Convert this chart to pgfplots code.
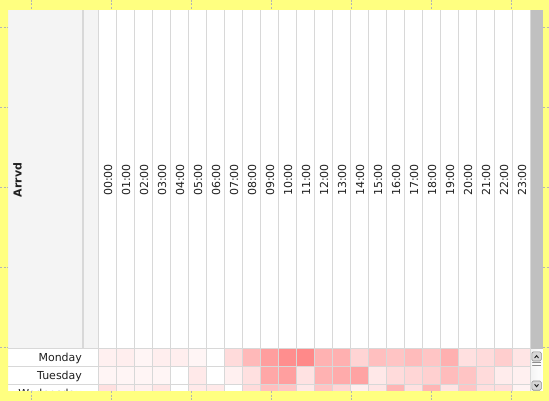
\documentclass[border=0pt]{standalone}
\usepackage{fontspec}
\setmainfont{DejaVu Sans}
\usepackage{pgfplots}
\pgfplotsset{compat=1.18}
\usepackage{pgfplotstable}

\definecolor{frameyellow}{HTML}{FFFF80}
\definecolor{dashgray}{HTML}{B4B4B4}
\definecolor{linegray}{HTML}{D8D8D8}
\definecolor{panelgray}{HTML}{F4F4F4}
\definecolor{scrollgray}{HTML}{C0C0C0}
\definecolor{btngray}{HTML}{D6D6D6}
\definecolor{btnedge}{HTML}{8C8C8C}
\definecolor{textdark}{HTML}{202020}

% arrivals per weekday (y: 0 = Monday) and hour (x), scaled 0..100
\pgfplotstableread[row sep=\\]{
x y v\\
0 0 12\\ 1 0 13\\ 2 0 8\\ 3 0 13\\ 4 0 13\\ 5 0 8\\
6 0 0\\ 7 0 28\\ 8 0 55\\ 9 0 76\\ 10 0 88\\ 11 0 92\\
12 0 60\\ 13 0 62\\ 14 0 34\\ 15 0 50\\ 16 0 46\\ 17 0 53\\
18 0 45\\ 19 0 62\\ 20 0 24\\ 21 0 28\\ 22 0 38\\ 23 0 20\\
0 1 8\\ 1 1 8\\ 2 1 8\\ 3 1 8\\ 4 1 0\\ 5 1 17\\
6 1 0\\ 7 1 12\\ 8 1 24\\ 9 1 69\\ 10 1 75\\ 11 1 23\\
12 1 60\\ 13 1 66\\ 14 1 72\\ 15 1 18\\ 16 1 28\\ 17 1 32\\
18 1 37\\ 19 1 52\\ 20 1 46\\ 21 1 28\\ 22 1 15\\ 23 1 12\\
0 2 24\\ 1 2 12\\ 2 2 12\\ 3 2 20\\ 4 2 0\\ 5 2 17\\
6 2 17\\ 7 2 0\\ 8 2 28\\ 9 2 50\\ 10 2 45\\ 11 2 18\\
12 2 46\\ 13 2 32\\ 14 2 13\\ 15 2 20\\ 16 2 58\\ 17 2 24\\
18 2 58\\ 19 2 22\\ 20 2 45\\ 21 2 26\\ 22 2 26\\ 23 2 9\\
}\arrivals

\begin{document}
\begin{tikzpicture}[font=\fontsize{11}{13}\selectfont, text=textdark]
\useasboundingbox (0pt,0pt) rectangle (549pt,-401pt);

\begin{scope}[x=1pt, y=-1pt]
  % widget background
  \fill[white] (8,10) rectangle (543,391);
  % header: row-title panel, separator, narrow column
  \fill[panelgray] (8,10) rectangle (82,348.5);
  \fill[linegray] (82,10) rectangle (84,348.5);
  \fill[panelgray] (84,10) rectangle (98,348.5);
  \draw[linegray, line width=0.8pt] (83.5,10) -- (83.5,348.5);
  % hour headings
  \foreach \k in {0,...,23}
    \node[rotate=90, inner sep=0pt] at (108+18*\k,180) {\ifnum\k<10 0\fi\k:00};
  \node[rotate=90, inner sep=0pt, font=\bfseries\fontsize{11}{13}\selectfont] at (17.5,180) {Arrvd};
\end{scope}

\begin{axis}[
  at={(98.5pt,-349pt)}, anchor=north west,
  x=18pt, y=18pt, y dir=reverse,
  xmin=-0.5, xmax=23.5, ymin=-0.5, ymax=2.5,
  axis line style={draw=none},
  xtick=\empty,
  ytick={0,1,2}, yticklabels={Monday,Tuesday,Wednesday},
  major tick length=0pt,
  yticklabel style={anchor=east, xshift=-13pt, text=textdark,
    font=\fontsize{11}{13}\selectfont},
  colormap={pinks}{rgb255(0)=(255,255,255) rgb255(100)=(255,128,128)},
  point meta min=0, point meta max=100,
]
\addplot[matrix plot*, mesh/cols=24, point meta=explicit] table[meta=v] {\arrivals};
\end{axis}

\begin{scope}[x=1pt, y=-1pt]
  % grid lines of header and cells
  \foreach \k in {0,...,24}
    \draw[linegray, line width=1pt] (98.5+18*\k,10) -- (98.5+18*\k,391);
  \draw[linegray, line width=1pt] (8,348.5) -- (530,348.5);
  \draw[linegray, line width=1pt] (8,366.5) -- (530,366.5);
  \draw[linegray, line width=1pt] (8,384.5) -- (530,384.5);

  % vertical scrollbar
  \fill[scrollgray] (530.5,10) rectangle (543,348.5);
  \shade[left color=panelgray, right color=white] (530.5,349) rectangle (543,391);
  \draw[linegray, line width=0.8pt] (530.5,349) -- (530.5,391);
  \draw[btnedge, fill=btngray, rounded corners=1.5pt, line width=0.6pt] (531.8,351.8) rectangle (541.3,361);
  \draw[textdark, line width=0.9pt] (534.6,358) -- (536.55,355.6) -- (538.5,358);
  \draw[btnedge, line width=0.8pt, line cap=round] (532.5,362.8) -- (540.6,362.8);
  \draw[btnedge, line width=0.8pt, line cap=round] (532.5,365.3) -- (540.6,365.3);
  \draw[btnedge, fill=btngray, rounded corners=1.5pt, line width=0.6pt] (531.8,381) rectangle (541.3,390.2);
  \draw[textdark, line width=0.9pt] (534.6,384.3) -- (536.55,386.7) -- (538.5,384.3);

  % yellow surround with its dashed guides
  \fill[frameyellow, even odd rule] (0,0) rectangle (549,401) (8,10) rectangle (543,391);
  \tikzset{guide/.style={dashgray, line width=0.8pt, dash pattern=on 2pt off 1.5pt}}
  \foreach \gx in {31.5,111.5,...,511.5} {
    \draw[guide] (\gx,0) -- (\gx,10);
    \draw[guide] (\gx,391) -- (\gx,401);
  }
  \foreach \gy in {27,107,...,347} {
    \draw[guide] (0,\gy) -- (8,\gy);
    \draw[guide] (543,\gy) -- (549,\gy);
  }
\end{scope}
\end{tikzpicture}
\end{document}
